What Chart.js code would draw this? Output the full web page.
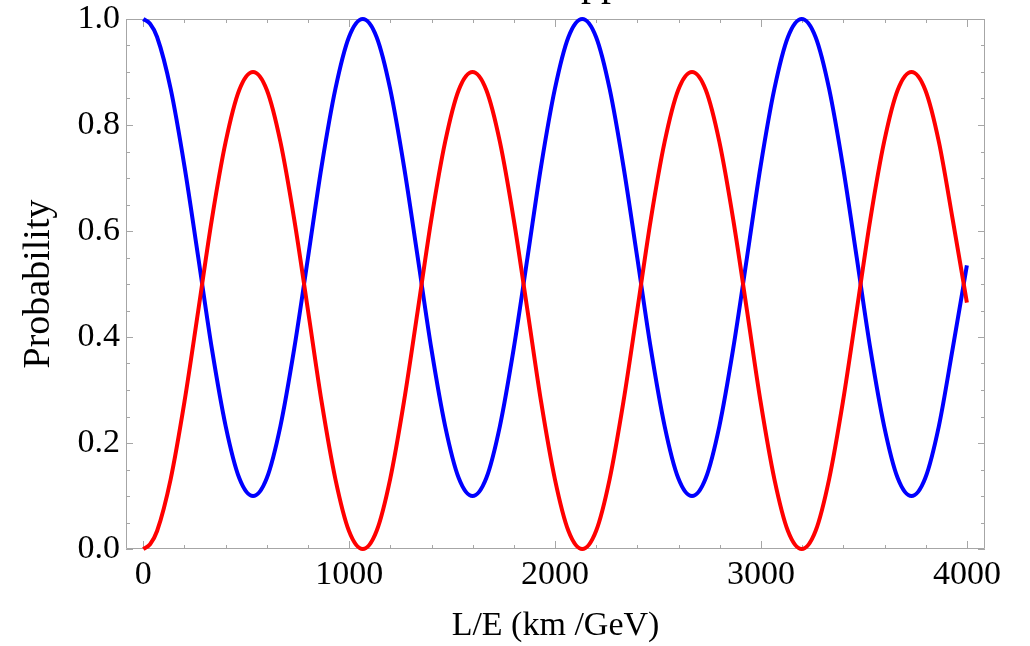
<!DOCTYPE html>
<html>
<head>
<meta charset="utf-8">
<script src="https://cdn.jsdelivr.net/npm/chart.js@4"></script>
<style>
  html, body { margin: 0; padding: 0; background: #ffffff; }
  #wrap { width: 1030px; height: 646px; }
</style>
</head>
<body>
<div id="wrap"><canvas id="c" width="1030" height="646"></canvas></div>
<script>
// ---- data ----
const lengthOverEnergy = [0, 33, 67, 133, 200, 267, 333, 400, 466, 533, 600, 666, 733, 800, 866, 933, 999,
  1066, 1133, 1199, 1266, 1333, 1399, 1466, 1532, 1599, 1666, 1732, 1799, 1866, 1932, 1999, 2065,
  2132, 2199, 2265, 2332, 2399, 2465, 2532, 2598, 2665, 2732, 2798, 2865, 2932, 2998, 3065, 3131,
  3198, 3265, 3331, 3398, 3465, 3531, 3598, 3664, 3731, 3798, 3864, 3931, 4000];
const survivalProb = [1, 0.991, 0.966, 0.868, 0.722, 0.55, 0.378, 0.232, 0.134, 0.1, 0.134, 0.232, 0.378, 0.55, 0.722, 0.868, 0.966,
  1, 0.966, 0.868, 0.722, 0.55, 0.378, 0.232, 0.134, 0.1, 0.134, 0.232, 0.378, 0.55, 0.722, 0.868, 0.966,
  1, 0.966, 0.868, 0.722, 0.55, 0.378, 0.232, 0.134, 0.1, 0.134, 0.232, 0.378, 0.55, 0.722, 0.868, 0.966,
  1, 0.966, 0.868, 0.722, 0.55, 0.378, 0.232, 0.134, 0.1, 0.134, 0.232, 0.378, 0.535];
const appearanceProb = [0, 0.009, 0.034, 0.132, 0.278, 0.45, 0.622, 0.768, 0.866, 0.9, 0.866, 0.768, 0.622, 0.45, 0.278, 0.132, 0.034,
  0, 0.034, 0.132, 0.278, 0.45, 0.622, 0.768, 0.866, 0.9, 0.866, 0.768, 0.622, 0.45, 0.278, 0.132, 0.034,
  0, 0.034, 0.132, 0.278, 0.45, 0.622, 0.768, 0.866, 0.9, 0.866, 0.768, 0.622, 0.45, 0.278, 0.132, 0.034,
  0, 0.034, 0.132, 0.278, 0.45, 0.622, 0.768, 0.866, 0.9, 0.866, 0.768, 0.622, 0.465];
const xTickValues = [0, 1000, 2000, 3000, 4000];
const yTickValues = [0, 0.2, 0.4, 0.6, 0.8, 1.0];
const xAxisTitle = 'L/E (km /GeV)';
const yAxisTitle = 'Probability';
const chartTitle = 'Disappearance';

const SERIF = '"Liberation Serif", "Times New Roman", serif';

const framePlugin = {
  id: 'frame',
  beforeDatasetsDraw(chart) {
    const { ctx, chartArea: a, scales: { x, y } } = chart;
    ctx.save();
    ctx.strokeStyle = '#a6a6a6';
    ctx.lineWidth = 1;
    ctx.beginPath();
    ctx.rect(a.left + 0.5, a.top + 0.5, a.right - a.left - 1, a.bottom - a.top - 1);
    ctx.stroke();
    ctx.beginPath();
    // x ticks (major every 1000, minor every 200) on bottom and top
    for (let v = 0; v <= 4000 + 1e-6; v += 200) {
      const major = Math.abs(v % 1000) < 1e-6;
      const len = major ? 8 : 4;
      const px = Math.round(x.getPixelForValue(v)) + 0.5;
      ctx.moveTo(px, a.bottom); ctx.lineTo(px, a.bottom - len);
      ctx.moveTo(px, a.top); ctx.lineTo(px, a.top + len);
    }
    // y ticks (major every 0.2, minor every 0.05) on left and right
    for (let i = 0; i <= 20; i++) {
      const v = i * 0.05;
      const major = i % 4 === 0;
      const len = major ? 7 : 4;
      const py = Math.round(y.getPixelForValue(v)) + 0.5;
      ctx.moveTo(a.left, py); ctx.lineTo(a.left + len, py);
      ctx.moveTo(a.right, py); ctx.lineTo(a.right - len, py);
    }
    ctx.stroke();
    ctx.restore();
  },
  afterDraw(chart) {
    const { ctx } = chart;
    ctx.save();
    ctx.font = '40px ' + SERIF;
    ctx.fillStyle = '#000';
    ctx.textBaseline = 'alphabetic';
    ctx.textAlign = 'left';
    const pre = ctx.measureText('Disa').width;
    ctx.fillText(chartTitle, 581 - pre, -5);
    ctx.restore();
  }
};

const toPoints = (xs, ys) => xs.map((v, i) => ({ x: v, y: ys[i] }));

new Chart(document.getElementById('c'), {
  type: 'line',
  data: {
    datasets: [
      {
        label: 'Appearance',
        data: toPoints(lengthOverEnergy, appearanceProb),
        borderColor: '#ff0000',
        borderWidth: 4,
        pointRadius: 0,
        cubicInterpolationMode: 'monotone',
        fill: false,
        clip: 6,
        order: 0
      },
      {
        label: 'Survival',
        data: toPoints(lengthOverEnergy, survivalProb),
        borderColor: '#0000ff',
        borderWidth: 4,
        pointRadius: 0,
        cubicInterpolationMode: 'monotone',
        fill: false,
        clip: 6,
        order: 1
      }
    ]
  },
  options: {
    responsive: false,
    animation: false,
    devicePixelRatio: 1,
    layout: { padding: { top: 19, right: 45, bottom: 0, left: 0 } },
    plugins: { legend: { display: false }, tooltip: { enabled: false }, title: { display: false } },
    scales: {
      x: {
        type: 'linear',
        min: -84,
        max: 4088,
        grid: { display: false, drawTicks: false },
        border: { display: false },
        afterBuildTicks: s => { s.ticks = xTickValues.map(v => ({ value: v })); },
        afterFit: s => { s.height = 97; s.paddingLeft = 0; s.paddingRight = 0; },
        ticks: {
          padding: 6,
          maxRotation: 0,
          color: '#000',
          font: { family: SERIF, size: 34 },
          callback: v => String(v)
        },
        title: {
          display: true,
          text: xAxisTitle,
          color: '#000',
          font: { family: SERIF, size: 34, lineHeight: 1.15 },
          padding: { top: 0, bottom: 0 }
        }
      },
      y: {
        type: 'linear',
        min: 0,
        max: 1,
        grid: { display: false, drawTicks: false },
        border: { display: false },
        afterBuildTicks: s => { s.ticks = yTickValues.map(v => ({ value: v })); },
        afterFit: s => { s.width = 126; s.paddingTop = 0; s.paddingBottom = 0; },
        ticks: {
          padding: 6,
          color: '#000',
          font: { family: SERIF, size: 34 },
          callback: v => Number(v).toFixed(1)
        },
        title: {
          display: true,
          text: yAxisTitle,
          color: '#000',
          font: { family: SERIF, size: 38, lineHeight: 1.2 },
          padding: { top: 16, bottom: 0 }
        }
      }
    }
  },
  plugins: [framePlugin]
});
</script>
</body>
</html>
